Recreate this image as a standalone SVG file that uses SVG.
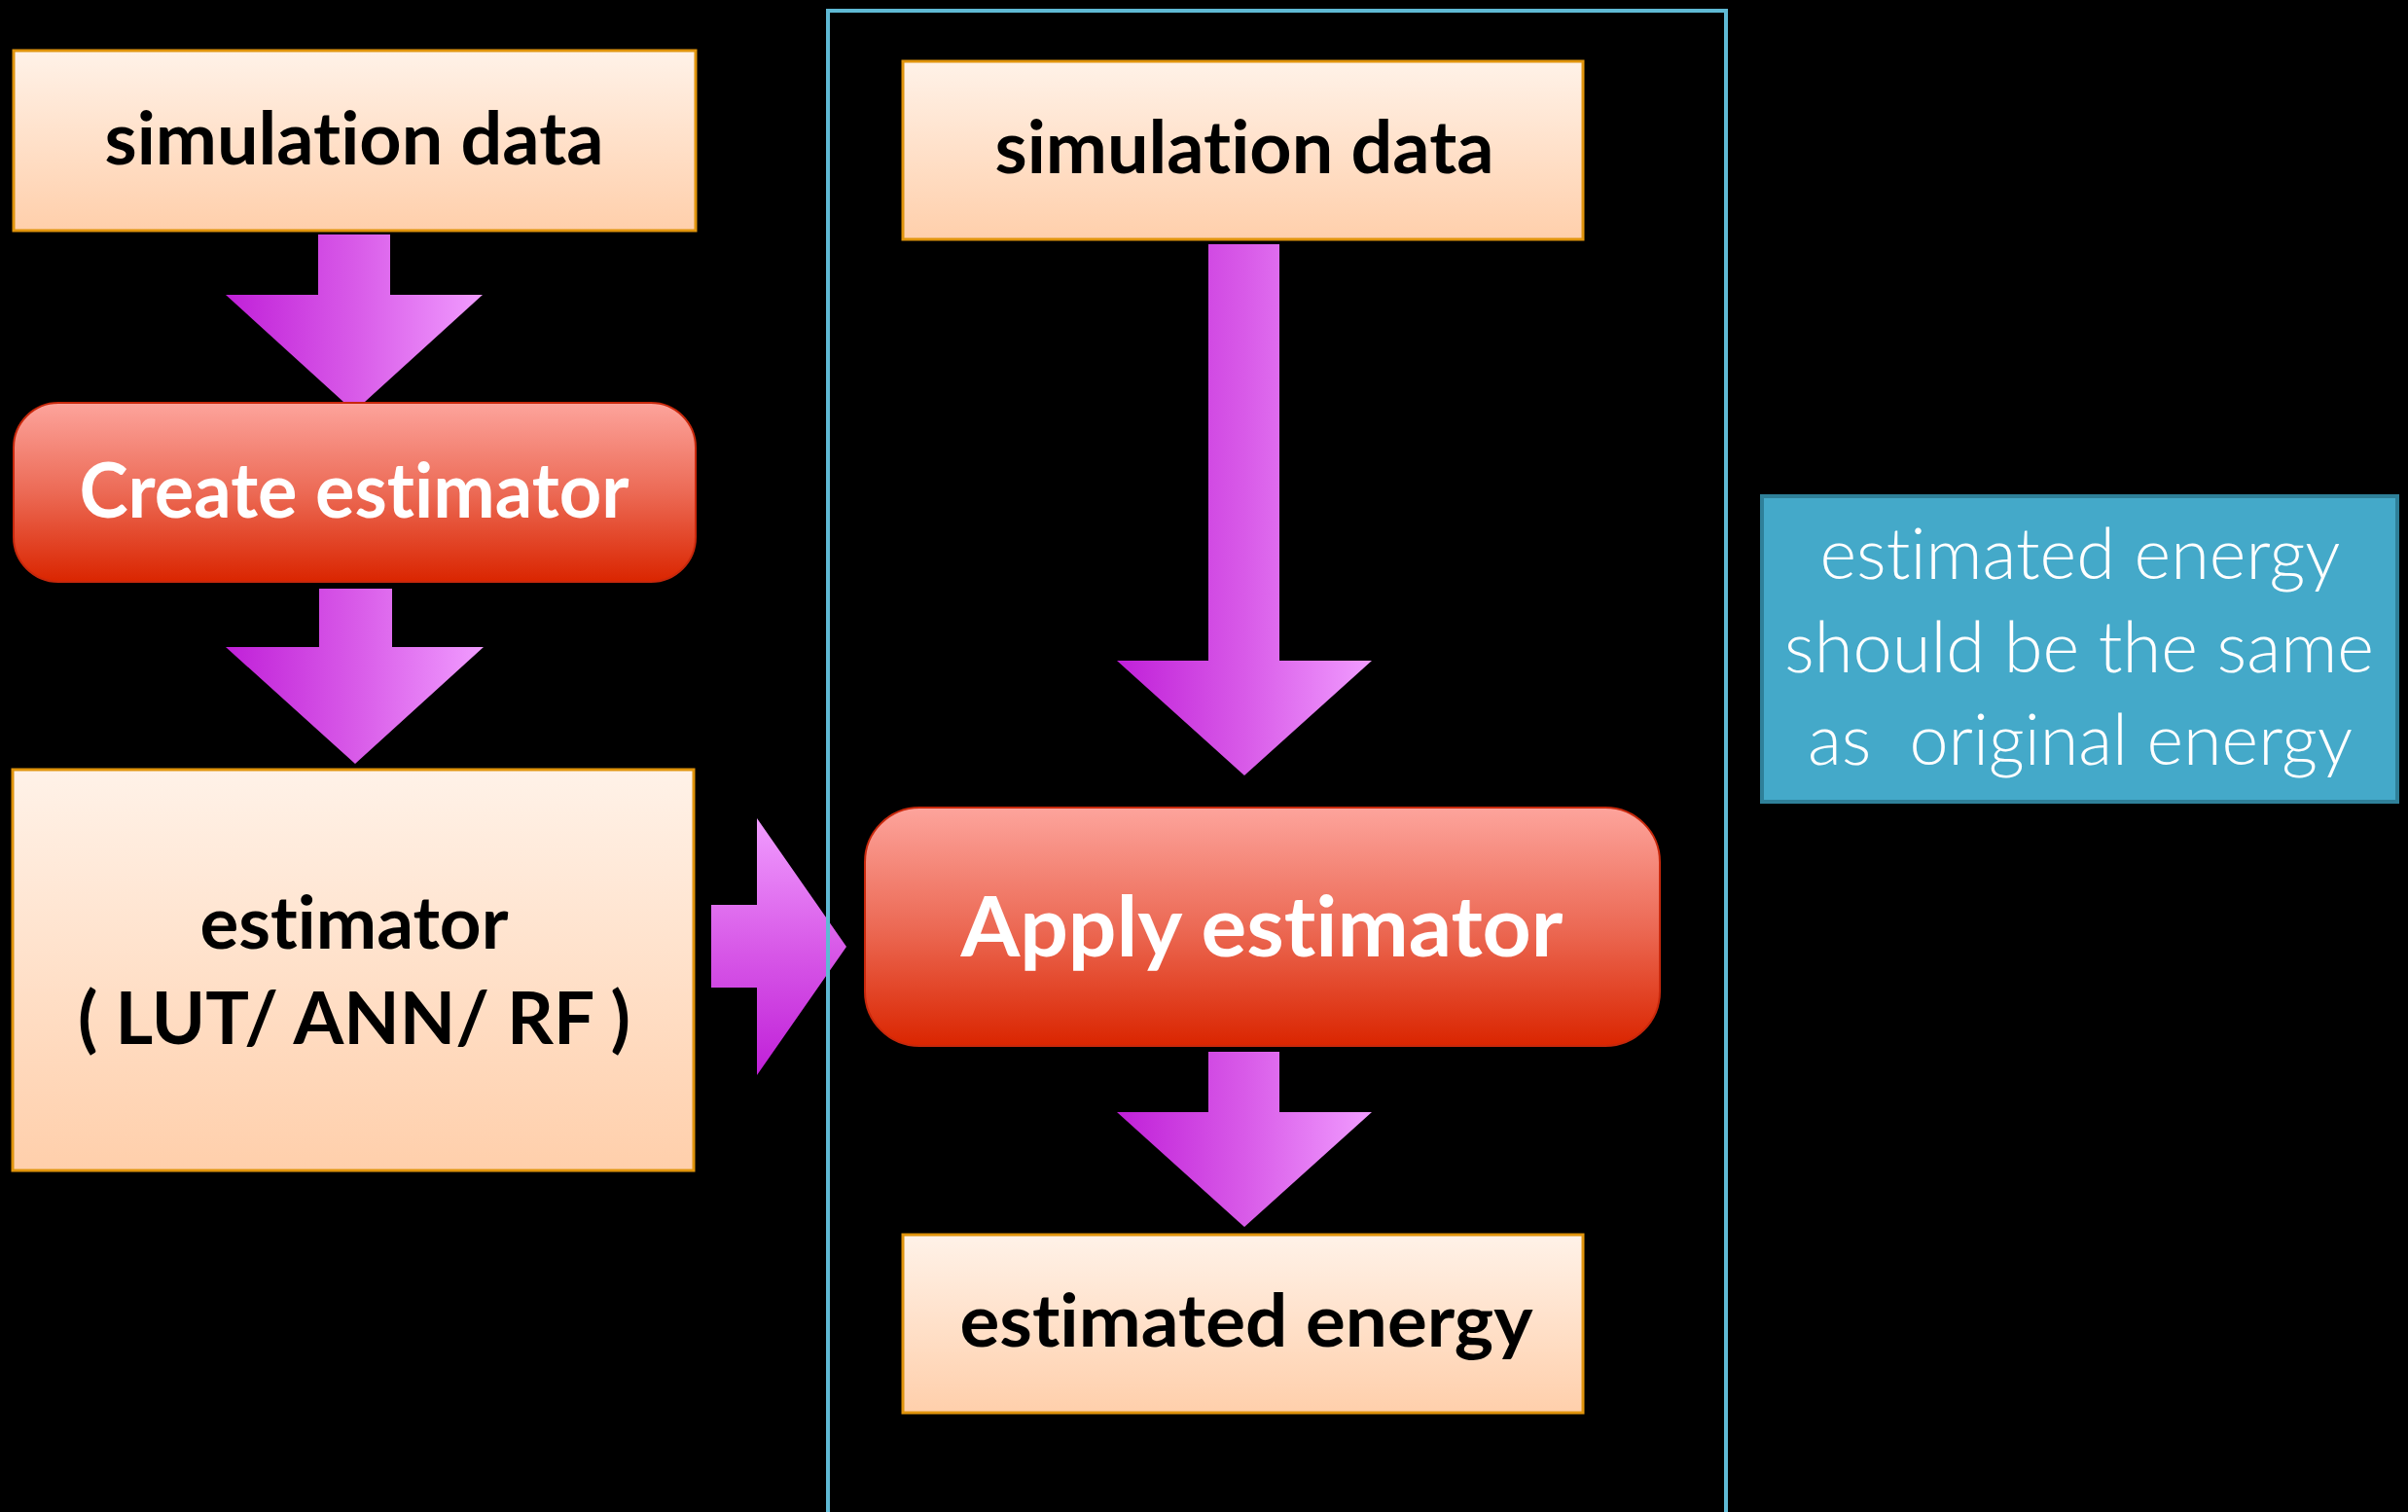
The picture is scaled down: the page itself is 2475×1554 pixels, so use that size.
<svg xmlns="http://www.w3.org/2000/svg" width="2475" height="1554" viewBox="0 0 2475 1554">
  <defs>
    <linearGradient id="peach" x1="0" y1="0" x2="0" y2="1">
      <stop offset="0" stop-color="#fff2e8"/>
      <stop offset="1" stop-color="#ffcfab"/>
    </linearGradient>
    <linearGradient id="red" x1="0" y1="0" x2="0" y2="1">
      <stop offset="0" stop-color="#fda49c"/>
      <stop offset="0.5" stop-color="#ec6a55"/>
      <stop offset="1" stop-color="#da2500"/>
    </linearGradient>
    <linearGradient id="violetH" x1="0" y1="0" x2="1" y2="0">
      <stop offset="0" stop-color="#c020d8"/>
      <stop offset="0.5" stop-color="#d85ae8"/>
      <stop offset="1" stop-color="#f19cff"/>
    </linearGradient>
    <linearGradient id="violetV" x1="0" y1="0" x2="0" y2="1">
      <stop offset="0" stop-color="#f19cff"/>
      <stop offset="0.5" stop-color="#d85ae8"/>
      <stop offset="1" stop-color="#c020d8"/>
    </linearGradient>
    <style>
      .data { fill: url(#peach); stroke: #e0940c; stroke-width: 3; }
      .step { fill: url(#red); stroke: #c8280c; stroke-width: 2; }
      .frame { fill: none; stroke: #5fb9d4; stroke-width: 4; }
      .note { fill: #44a9c9; stroke: #2f8099; stroke-width: 4; }
      text { font-family: Lato, "Liberation Sans", sans-serif; text-anchor: middle; font-variant-ligatures: none; font-feature-settings: "liga" 0, "clig" 0; }
      .dark { font-weight: 700; fill: #000; }
      .light { font-weight: 700; fill: #fff; }
      .thin { font-weight: 300; fill: #fff; }
    </style>
  </defs>

  <rect width="2475" height="1554" fill="#000"/>

  <!-- block arrows between the steps -->
  <g id="connectors">
    <path d="M327,241 H401 V303 H496 L364,423 L232,303 H327 Z" fill="url(#violetH)"/>
    <path d="M328,605 H403 V665 H497 L365,785 L232,665 H328 Z" fill="url(#violetH)"/>
    <path d="M731,930 H778 V841 L870,973 L778,1105 V1015 H731 Z" fill="url(#violetV)"/>
    <path d="M1242,251 H1315 V679 H1410 L1279,797 L1148,679 H1242 Z" fill="url(#violetH)"/>
    <path d="M1242,1081 H1315 V1143 H1410 L1279,1261 L1148,1143 H1242 Z" fill="url(#violetH)"/>
  </g>

  <!-- training side -->
  <g id="sim-data-train">
    <rect class="data" x="14" y="52" width="701" height="185"/>
    <text class="dark" x="364" y="169" font-size="74" textLength="513" lengthAdjust="spacingAndGlyphs">simulation data</text>
  </g>
  <g id="create-estimator">
    <rect class="step" x="14" y="414" width="701" height="184" rx="46" ry="46"/>
    <text class="light" x="364" y="532" font-size="78" textLength="565" lengthAdjust="spacingAndGlyphs">Create estimator</text>
  </g>
  <g id="estimator">
    <rect class="data" x="13" y="791" width="700" height="412"/>
    <text class="dark" x="364" y="975" font-size="74" textLength="317" lengthAdjust="spacingAndGlyphs">estimator</text>
    <text class="dark" x="364" y="1073" font-size="74" textLength="568" lengthAdjust="spacingAndGlyphs">( LUT/ ANN/ RF )</text>
  </g>

  <!-- application side -->
  <g id="apply-frame">
    <path class="frame" d="M851,1560 V11 H1774 V1560"/>
  </g>
  <g id="sim-data-apply">
    <rect class="data" x="928" y="63" width="699" height="183"/>
    <text class="dark" x="1279" y="178" font-size="74" textLength="513" lengthAdjust="spacingAndGlyphs">simulation data</text>
  </g>
  <g id="apply-estimator">
    <rect class="step" x="889" y="830" width="817" height="245" rx="56" ry="56"/>
    <text class="light" x="1297" y="983" font-size="86" textLength="619" lengthAdjust="spacingAndGlyphs">Apply estimator</text>
  </g>
  <g id="estimated-energy">
    <rect class="data" x="928" y="1269" width="699" height="183"/>
    <text class="dark" x="1281" y="1384" font-size="74" textLength="589" lengthAdjust="spacingAndGlyphs">estimated energy</text>
  </g>

  <!-- remark -->
  <g id="note">
    <rect class="note" x="1811" y="510" width="653" height="314"/>
    <text class="thin" x="2138" y="595" font-size="72" textLength="535" lengthAdjust="spacingAndGlyphs">estimated energy</text>
    <text class="thin" x="2137" y="691" font-size="72" textLength="606" lengthAdjust="spacingAndGlyphs">should be the same</text>
    <text class="thin" x="2138" y="786" font-size="72" textLength="560" lengthAdjust="spacingAndGlyphs" xml:space="preserve">as  original energy</text>
  </g>
</svg>
